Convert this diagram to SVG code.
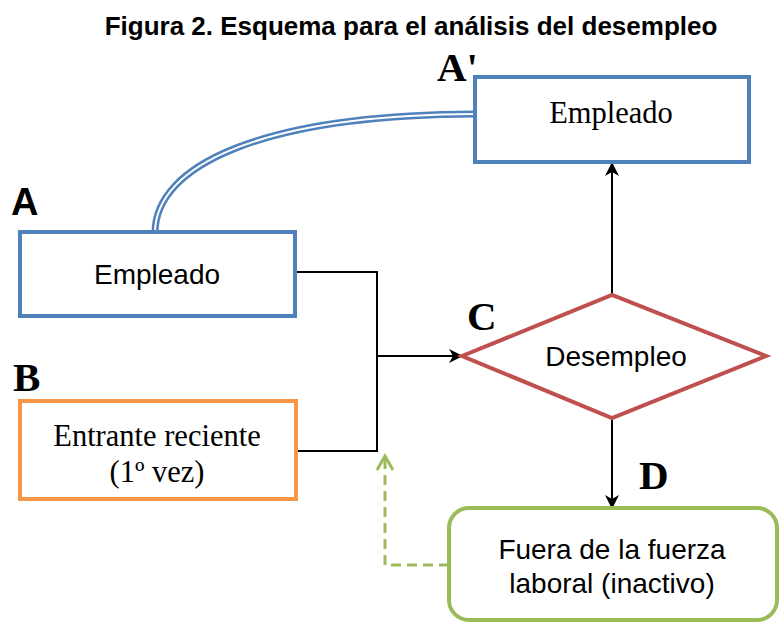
<svg xmlns="http://www.w3.org/2000/svg" width="779" height="630" viewBox="0 0 779 630">
<style>
.title{font-family:"Liberation Sans",Arial,sans-serif;font-weight:bold;font-size:26px;fill:#000}
.lblS{font-family:"Liberation Sans",Arial,sans-serif;font-weight:bold;font-size:38px;fill:#000}
.lblT{font-family:"Liberation Serif","Times New Roman",serif;font-weight:bold;font-size:41px;fill:#000}
.ts{font-family:"Liberation Sans",Arial,sans-serif;font-size:28px;fill:#000;text-anchor:middle}
.tt{font-family:"Liberation Serif","Times New Roman",serif;font-size:30.5px;fill:#000;text-anchor:middle}
.conn{fill:none;stroke:#000;stroke-width:2}
</style>
<defs>
<marker id="ah" markerWidth="14" markerHeight="14" refX="13" refY="7" orient="auto" markerUnits="userSpaceOnUse" viewBox="0 0 14 14">
<path d="M0,0 L14,7 L0,14 L4,7 Z" fill="#000"/>
</marker>
</defs>
<text class="title" x="411" y="35" text-anchor="middle">Figura 2. Esquema para el análisis del desempleo</text>

<g id="connectors">
<path d="M155,233 C155,165 262,115 475,114" fill="none" stroke="#4F81BD" stroke-width="7"/>
<path d="M155,233 C155,165 262,115 475,114" fill="none" stroke="#fff" stroke-width="2"/>
<path class="conn" d="M295,272 H377 V451 H296"/>
<path class="conn" d="M377,356 H462" marker-end="url(#ah)"/>
<path class="conn" d="M612,295 V163" marker-end="url(#ah)"/>
<path class="conn" d="M612,418 V508" marker-end="url(#ah)"/>
<path d="M449,565 H385 V458" fill="none" stroke="#9BBB59" stroke-width="3" stroke-dasharray="10,6"/>
<path d="M377,470 L385,456 L393,470" fill="none" stroke="#9BBB59" stroke-width="3"/>
</g>

<g id="nodeAprime">
<text class="lblT" x="437" y="81">A'</text>
<rect x="475" y="77" width="274" height="85" fill="#fff" stroke="#4F81BD" stroke-width="4"/>
<text class="tt" x="611" y="123">Empleado</text>
</g>

<g id="nodeA">
<text class="lblS" x="11" y="215">A</text>
<rect x="20" y="232" width="275" height="84" fill="#fff" stroke="#4F81BD" stroke-width="4"/>
<text class="ts" x="157" y="284">Empleado</text>
</g>

<g id="nodeB">
<text class="lblT" x="13" y="391">B</text>
<rect x="20" y="401" width="276" height="98" fill="#fff" stroke="#F79646" stroke-width="4"/>
<text class="tt" x="157" y="446">Entrante reciente</text>
<text class="tt" x="157" y="482">(1º vez)</text>
</g>

<g id="nodeC">
<text class="lblT" x="467" y="330">C</text>
<polygon points="462,356 612,295 766,356 612,418" fill="#fff" stroke="#C0504D" stroke-width="4"/>
<text class="ts" x="616" y="366">Desempleo</text>
</g>

<g id="nodeD">
<text class="lblT" x="639" y="489">D</text>
<rect x="449" y="508" width="328" height="112" rx="20" ry="20" fill="#fff" stroke="#9BBB59" stroke-width="4"/>
<text class="ts" x="612" y="559">Fuera de la fuerza</text>
<text class="ts" x="612" y="593">laboral (inactivo)</text>
</g>
</svg>
